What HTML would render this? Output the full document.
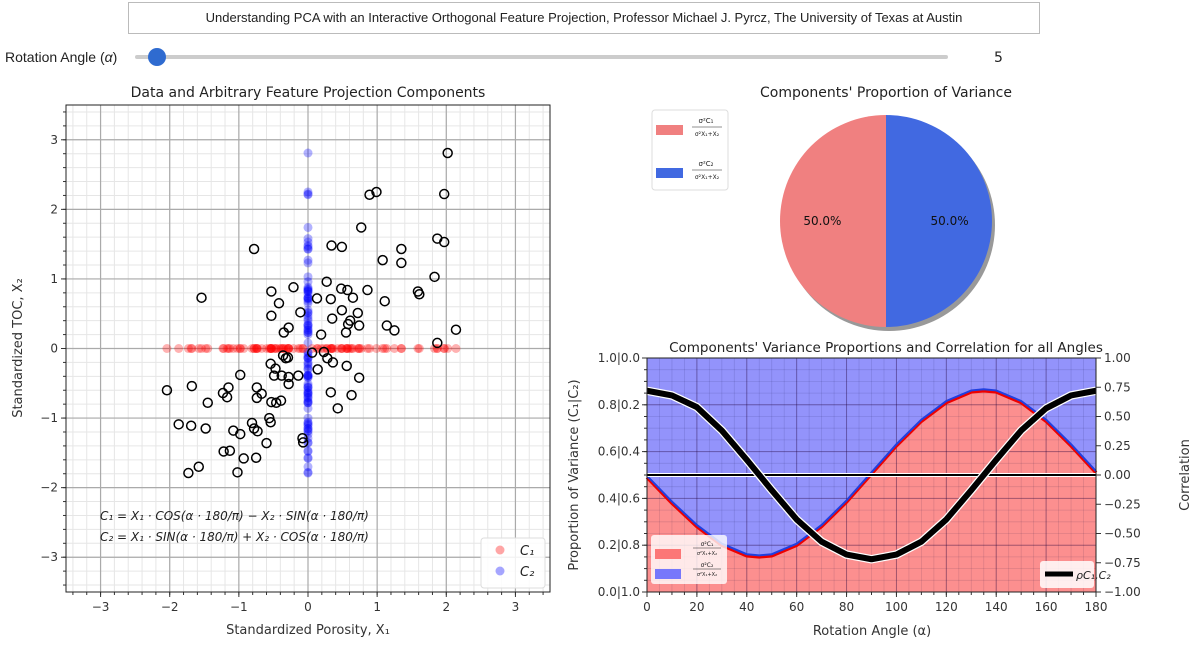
<!DOCTYPE html>
<html><head><meta charset="utf-8"><style>
body{margin:0;width:1200px;height:651px;background:#fff;font-family:"DejaVu Sans","Liberation Sans",sans-serif;overflow:hidden;position:relative}
.tb{position:absolute;left:128px;top:2px;width:910px;height:30px;border:1px solid #bbb;font-size:13px;line-height:30px;text-align:center;color:#222;font-family:"Liberation Sans",sans-serif}
</style></head><body>
<div class="tb">Understanding PCA with an Interactive Orthogonal Feature Projection, Professor Michael J. Pyrcz, The University of Texas at Austin</div>
<svg width="1200" height="651" style="position:absolute;left:0;top:0" id="svg">
<g>
<text x="5" y="62" font-size="14" fill="#222" font-family="Liberation Sans">Rotation Angle (<tspan font-style="italic">α</tspan>)</text>
<rect x="135" y="55" width="813" height="4" rx="2" fill="#ccc"/>
<circle cx="157" cy="57" r="9" fill="#2f6bd0"/>
<text x="994" y="62" font-size="14" fill="#222">5</text>
</g>
<g id="sc"></g><g id="pie"></g><g id="bot"></g>
</svg>
<script>
const NS="http://www.w3.org/2000/svg";
function mk(p,t,a){const e=document.createElementNS(NS,t);for(const k in a)e.setAttribute(k,a[k]);p.appendChild(e);return e;}
// ---- scatter data ----
const dataX1=[2.02,0.89,0.99,1.97,0.77,-0.78,0.34,0.49,1.35,1.87,1.97,1.08,1.35,1.83,0.27,-0.53,-0.21,-1.54,0.48,0.57,0.86,0.13,0.33,0.65,1.59,1.61,-0.42,1.11,-0.11,-0.53,0.49,0.72,0.35,0.61,0.58,0.74,1.14,1.25,-0.28,-0.35,0.19,0.55,2.14,1.87,0.06,-0.36,-0.29,-0.32,0.23,0.28,0.36,0.56,-0.54,-0.47,0.14,0.74,-0.98,-0.49,-0.38,-0.28,-0.14,-0.28,-1.68,-2.04,-1.15,-1.23,-1.17,-0.74,-0.67,-0.74,0.33,0.63,-1.45,-0.53,-0.46,-0.39,0.43,-0.56,-0.54,-1.87,-1.69,-1.48,-0.81,-0.78,-0.73,-1.08,-0.98,-0.60,-0.08,-0.07,-1.22,-1.13,-0.93,-0.75,-1.58,-1.73,-1.02];
const dataX2=[2.81,2.21,2.25,2.22,1.74,1.43,1.48,1.46,1.43,1.58,1.53,1.27,1.23,1.03,0.96,0.82,0.88,0.73,0.86,0.84,0.84,0.72,0.71,0.73,0.82,0.78,0.65,0.68,0.52,0.47,0.55,0.51,0.43,0.40,0.35,0.33,0.33,0.26,0.30,0.23,0.20,0.23,0.27,0.08,-0.06,-0.10,-0.13,-0.14,-0.05,-0.14,-0.20,-0.25,-0.22,-0.29,-0.30,-0.42,-0.38,-0.39,-0.39,-0.41,-0.39,-0.51,-0.54,-0.60,-0.56,-0.64,-0.70,-0.56,-0.65,-0.71,-0.63,-0.67,-0.78,-0.77,-0.78,-0.75,-0.86,-1.00,-1.06,-1.09,-1.11,-1.15,-1.07,-1.15,-1.19,-1.18,-1.23,-1.36,-1.29,-1.35,-1.48,-1.47,-1.58,-1.57,-1.70,-1.79,-1.78];
const projectionAngleDeg=0;
const scTicks=[-3,-2,-1,0,1,2,3];
// ---- pie data ----
const pieValues=[50,50];
const pieLabels=["50.0%","50.0%"];
// ---- sweep data ----
const angles=[0,10,20,30,40,45,50,60,70,80,90,100,110,120,130,135,140,150,160,170,180];
const propC1=[0.49,0.38,0.28,0.20,0.155,0.15,0.155,0.20,0.28,0.385,0.505,0.625,0.73,0.81,0.855,0.86,0.855,0.81,0.73,0.625,0.51];
const corr=[0.72,0.68,0.58,0.38,0.13,0.0,-0.13,-0.38,-0.57,-0.68,-0.72,-0.68,-0.57,-0.38,-0.13,0.0,0.13,0.38,0.57,0.68,0.72];
const angTicks=[0,20,40,60,80,100,120,140,160,180];
const propTicks=[0,0.2,0.4,0.6,0.8,1.0];
const propTickLabels=["0.0|1.0","0.2|0.8","0.4|0.6","0.6|0.4","0.8|0.2","1.0|0.0"];
const corrTicks=[-1,-0.75,-0.5,-0.25,0,0.25,0.5,0.75,1];
const corrTickLabels=["−1.00","−0.75","−0.50","−0.25","0.00","0.25","0.50","0.75","1.00"];

// ================= SCATTER =================
const sc=document.getElementById('sc');
const L=66,R=550,T=105,B=592;
const sx=v=>L+(v+3.5)/7*(R-L), sy=v=>B-(v+3.5)/7*(B-T);
mk(sc,'text',{x:308,y:97,'text-anchor':'middle','font-size':14,fill:'#222'}).textContent='Data and Arbitrary Feature Projection Components';
for(let v=-3.4;v<3.45;v+=0.2){mk(sc,'line',{x1:sx(v),x2:sx(v),y1:T,y2:B,stroke:'#e6e6e6','stroke-width':1});mk(sc,'line',{x1:L,x2:R,y1:sy(v),y2:sy(v),stroke:'#e6e6e6','stroke-width':1});}
scTicks.forEach(t=>{
 const gx=mk(sc,'line',{x1:sx(t),x2:sx(t),y1:T,y2:B,stroke:'#aaa','stroke-width':1.2});
 
 mk(sc,'line',{x1:L,x2:R,y1:sy(t),y2:sy(t),stroke:'#aaa','stroke-width':1.2});
 mk(sc,'line',{x1:sx(t),x2:sx(t),y1:B,y2:B+5,stroke:'#333'});
 mk(sc,'line',{x1:L-5,x2:L,y1:sy(t),y2:sy(t),stroke:'#333'});
 const lx=mk(sc,'text',{x:sx(t),y:B+19,'text-anchor':'middle','font-size':12,fill:'#333'});lx.textContent=t<0?'−'+(-t):t;
 
 const ly=mk(sc,'text',{x:L-8,y:sy(t)+4,'text-anchor':'end','font-size':12,fill:'#333'});ly.textContent=t<0?'−'+(-t):t;
 
});
for(let v=-3.4;v<3.45;v+=0.2){mk(sc,'line',{x1:sx(v),x2:sx(v),y1:B,y2:B+3,stroke:'#333'});mk(sc,'line',{x1:L-3,x2:L,y1:sy(v),y2:sy(v),stroke:'#333'});}
const fr=mk(sc,'rect',{x:L,y:T,width:R-L,height:B-T,fill:'none',stroke:'#222','stroke-width':1});

const a=projectionAngleDeg*Math.PI/180;
dataX1.forEach((x,i)=>{const y=dataX2[i];
 const c1=x*Math.cos(a)-y*Math.sin(a), c2=x*Math.sin(a)+y*Math.cos(a);
 const p=mk(sc,'circle',{cx:sx(c1),cy:sy(0),r:4.5,fill:'red','fill-opacity':0.3});
 
 const q=mk(sc,'circle',{cx:sx(0),cy:sy(c2),r:4.5,fill:'blue','fill-opacity':0.3});
 
});
dataX1.forEach((x,i)=>{const c=mk(sc,'circle',{cx:sx(x),cy:sy(dataX2[i]),r:4.5,fill:'none',stroke:'#000','stroke-width':1.5});
 });
let t1=mk(sc,'text',{x:100,y:520,'font-size':12,fill:'#222','font-style':'italic'});t1.textContent='C₁ = X₁ · COS(α · 180/π) − X₂ · SIN(α · 180/π)';

let t2=mk(sc,'text',{x:100,y:541,'font-size':12,fill:'#222','font-style':'italic'});t2.textContent='C₂ = X₁ · SIN(α · 180/π) + X₂ · COS(α · 180/π)';

let lg=mk(sc,'g',{});
mk(lg,'rect',{x:481,y:538,width:64,height:50,rx:3,fill:'#fff','fill-opacity':0.85,stroke:'#ddd'});
mk(lg,'circle',{cx:500,cy:550,r:4.5,fill:'red','fill-opacity':0.35});mk(lg,'circle',{cx:500,cy:571,r:4.5,fill:'blue','fill-opacity':0.35});
mk(lg,'text',{x:520,y:555,'font-size':13,'font-style':'italic',fill:'#222'}).textContent='C₁';
mk(lg,'text',{x:520,y:576,'font-size':13,'font-style':'italic',fill:'#222'}).textContent='C₂';
let yt=mk(sc,'text',{x:22,y:348,'text-anchor':'middle','font-size':13,fill:'#333',transform:'rotate(-90 22 348)'});yt.textContent='Standardized TOC, X₂';

let xt=mk(sc,'text',{x:308,y:634,'text-anchor':'middle','font-size':13,fill:'#333'});xt.textContent='Standardized Porosity, X₁';


// ================= PIE =================
const pie=document.getElementById('pie');
mk(pie,'text',{x:886,y:97,'text-anchor':'middle','font-size':14,fill:'#222'}).textContent="Components' Proportion of Variance";
const cx=886,cy=221,r=106,cols=['#f08080','#4169e1'];
mk(pie,'circle',{cx:cx+3,cy:cy+4,r:r,fill:'#999'});
const tot=pieValues.reduce((s,v)=>s+v,0);let st=-Math.PI/2;
pieValues.forEach((v,i)=>{const en=st-v/tot*2*Math.PI;
 const large=v/tot>0.5?1:0;
 const d=`M${cx},${cy} L${cx+r*Math.cos(st)},${cy+r*Math.sin(st)} A${r},${r} 0 ${large} 0 ${cx+r*Math.cos(en)},${cy+r*Math.sin(en)} Z`;
 const s=mk(pie,'path',{d:d,fill:cols[i]});
 const mid=(st+en)/2;const lb=mk(pie,'text',{x:cx+0.6*r*Math.cos(mid),y:cy+0.6*r*Math.sin(mid)+4,'text-anchor':'middle','font-size':12,fill:'#111'});lb.textContent=pieLabels[i];
 
 st=en;});
let pl=mk(pie,'g',{});
mk(pl,'rect',{x:652,y:110,width:76,height:80,rx:3,fill:'#fff',stroke:'#ddd'});
mk(pl,'rect',{x:656,y:125,width:27,height:10,fill:'#f08080'});mk(pl,'rect',{x:656,y:168,width:27,height:10,fill:'#4169e1'});
[[0,'σ²C₁'],[1,'σ²C₂']].forEach(([i,s])=>{const y0=123+i*43;
 mk(pl,'text',{x:706,y:y0,'text-anchor':'middle','font-size':7,fill:'#222'}).textContent=s;
 mk(pl,'line',{x1:692,x2:722,y1:y0+4,y2:y0+4,stroke:'#222','stroke-width':0.6});
 mk(pl,'text',{x:707,y:y0+13,'text-anchor':'middle','font-size':6,fill:'#222'}).textContent='σ²X₁+X₂';});

// ================= SWEEP =================
const bt=document.getElementById('bot');
const BL=647,BR=1096,BT=358,BB=592;
const ax=v=>BL+v/180*(BR-BL), ayL=p=>BB-p*(BB-BT), ayR=c=>(BT+BB)/2-c*(BB-BT)/2;
mk(bt,'text',{x:886,y:352,'text-anchor':'middle','font-size':13.5,fill:'#222'}).textContent="Components' Variance Proportions and Correlation for all Angles";
let pts=angles.map((g,i)=>ax(g)+','+ayL(propC1[i])).join(' ');
const fb=mk(bt,'rect',{x:BL,y:BT,width:BR-BL,height:BB-BT,fill:'#9393fb'});
const fa=mk(bt,'polygon',{points:`${ax(angles[0])},${BB} ${pts} ${ax(angles[angles.length-1])},${BB}`,fill:'#fc8f8f'});

for(let g=0;g<=180;g+=5)mk(bt,'line',{x1:ax(g),x2:ax(g),y1:BT,y2:BB,stroke:'rgba(0,0,60,0.12)','stroke-width':0.8});
for(let p=0;p<=1.001;p+=0.05)mk(bt,'line',{x1:BL,x2:BR,y1:ayL(p),y2:ayL(p),stroke:'rgba(0,0,60,0.12)','stroke-width':0.8});
angTicks.forEach(g=>{mk(bt,'line',{x1:ax(g),x2:ax(g),y1:BT,y2:BB,stroke:'rgba(40,0,60,0.35)','stroke-width':1});
 mk(bt,'line',{x1:ax(g),x2:ax(g),y1:BB,y2:BB+5,stroke:'#333'});
 const l=mk(bt,'text',{x:ax(g),y:BB+19,'text-anchor':'middle','font-size':12,fill:'#333'});l.textContent=g;
 });
for(let g=0;g<=180;g+=5)mk(bt,'line',{x1:ax(g),x2:ax(g),y1:BB,y2:BB+3,stroke:'#333'});
propTicks.forEach((p,i)=>{mk(bt,'line',{x1:BL,x2:BR,y1:ayL(p),y2:ayL(p),stroke:'rgba(40,0,60,0.35)','stroke-width':1});
 mk(bt,'line',{x1:BL-5,x2:BL,y1:ayL(p),y2:ayL(p),stroke:'#333'});
 const l=mk(bt,'text',{x:BL-7,y:ayL(p)+4,'text-anchor':'end','font-size':12,fill:'#333'});l.textContent=propTickLabels[i];
 });
for(let p=0;p<=1.001;p+=0.05)mk(bt,'line',{x1:BL-3,x2:BL,y1:ayL(p),y2:ayL(p),stroke:'#333'});
corrTicks.forEach((c,i)=>{mk(bt,'line',{x1:BR,x2:BR+5,y1:ayR(c),y2:ayR(c),stroke:'#333'});
 const l=mk(bt,'text',{x:BR+8,y:ayR(c)+4,'font-size':12,fill:'#333'});l.textContent=corrTickLabels[i];
 });
const lr=mk(bt,'polyline',{points:pts,fill:'none',stroke:'#e00','stroke-width':3.5});
const lb2=mk(bt,'polyline',{points:angles.map((g,i)=>ax(g)+','+(ayL(propC1[i])-1.5)).join(' '),fill:'none',stroke:'#2040e0','stroke-width':2});

mk(bt,'line',{x1:BL,x2:BR,y1:ayR(0),y2:ayR(0),stroke:'#fff','stroke-width':4});
const zl=mk(bt,'line',{x1:BL,x2:BR,y1:ayR(0),y2:ayR(0),stroke:'#000','stroke-width':2});
const cp=angles.map((g,i)=>ax(g)+','+ayR(corr[i])).join(' ');
mk(bt,'polyline',{points:cp,fill:'none',stroke:'#fff','stroke-width':8.5,'stroke-linejoin':'round'});
const cl=mk(bt,'polyline',{points:cp,fill:'none',stroke:'#000','stroke-width':6,'stroke-linejoin':'round'});

mk(bt,'rect',{x:BL,y:BT,width:BR-BL,height:BB-BT,fill:'none',stroke:'#222'});
let l1=mk(bt,'g',{});
mk(l1,'rect',{x:651,y:535,width:76,height:49,rx:3,fill:'#fff','fill-opacity':0.8});
mk(l1,'rect',{x:655,y:549,width:26,height:10,fill:'#fc7777'});mk(l1,'rect',{x:655,y:569,width:26,height:10,fill:'#7777fb'});
[0,1].forEach(i=>{const y0=546+i*21;mk(l1,'text',{x:707,y:y0,'text-anchor':'middle','font-size':6,fill:'#222'}).textContent=i?'σ²C₂':'σ²C₁';
 mk(l1,'line',{x1:693,x2:721,y1:y0+2,y2:y0+2,stroke:'#222','stroke-width':0.5});
 mk(l1,'text',{x:707,y:y0+9,'text-anchor':'middle','font-size':5,fill:'#222'}).textContent='σ²X₁+X₂';});
let l2=mk(bt,'g',{});
mk(l2,'rect',{x:1040,y:561,width:54,height:27,rx:3,fill:'#fff','fill-opacity':0.85});
mk(l2,'line',{x1:1045,x2:1073,y1:574,y2:574,stroke:'#000','stroke-width':5});
mk(l2,'text',{x:1076,y:579,'font-size':11,'font-style':'italic',fill:'#222'}).textContent='ρC₁,C₂';
let ly1=mk(bt,'text',{x:578,y:475,'text-anchor':'middle','font-size':13,fill:'#333',transform:'rotate(-90 578 475)'});ly1.textContent='Proportion of Variance (C₁|C₂)';

let ly2=mk(bt,'text',{x:1189,y:475,'text-anchor':'middle','font-size':13,fill:'#333',transform:'rotate(-90 1189 475)'});ly2.textContent='Correlation';

let lx2=mk(bt,'text',{x:872,y:635,'text-anchor':'middle','font-size':13,fill:'#333'});lx2.textContent='Rotation Angle (α)';

</script>
</body></html>
